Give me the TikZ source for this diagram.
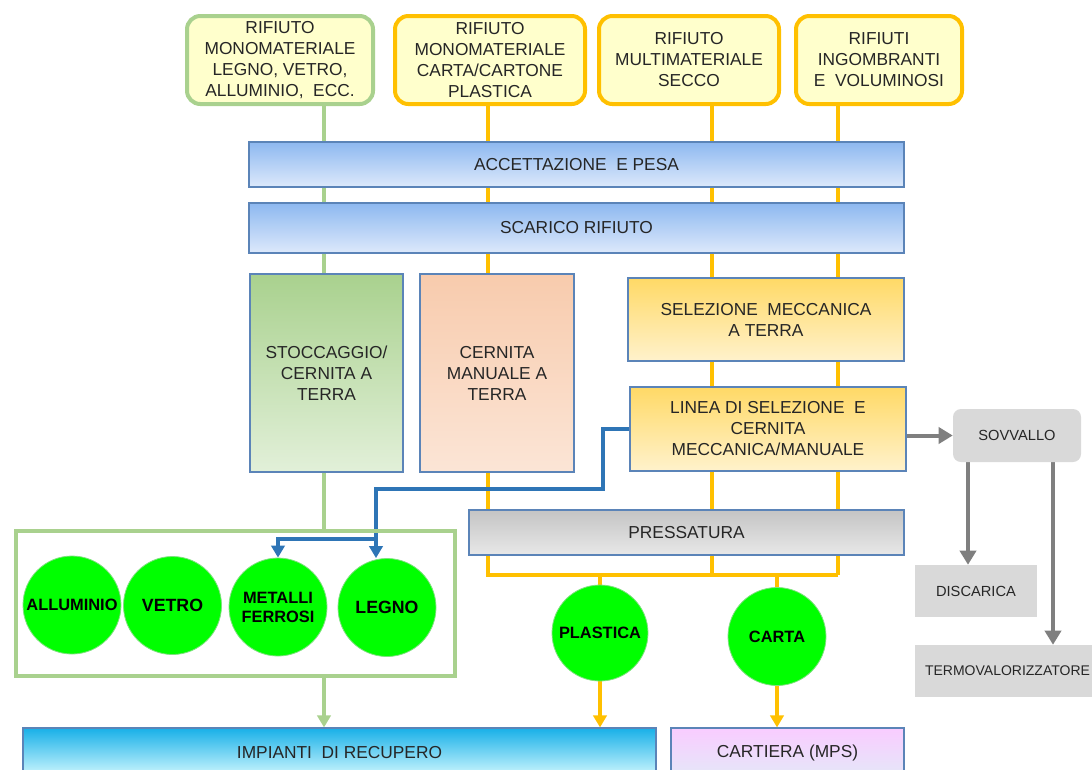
\documentclass[tikz,border=0pt]{standalone}
\usepackage{fontspec}
\setmainfont{Liberation Sans}
\usetikzlibrary{arrows.meta,backgrounds}
\definecolor{textc}{HTML}{262626}
\definecolor{topfill}{HTML}{FFFFCC}
\definecolor{grn}{HTML}{A9D18E}
\definecolor{org}{HTML}{FFC000}
\definecolor{boxline}{HTML}{5B84B8}
\definecolor{bluT}{HTML}{8DB8F0}
\definecolor{bluB}{HTML}{DDE9FB}
\definecolor{stocT}{HTML}{A9D18E}
\definecolor{stocB}{HTML}{E2F0D9}
\definecolor{cernT}{HTML}{F8CBAD}
\definecolor{cernM}{HTML}{F4B183}
\definecolor{cernB}{HTML}{FBE5D6}
\definecolor{yelT}{HTML}{FFD966}
\definecolor{yelB}{HTML}{FFF2CC}
\definecolor{presT}{HTML}{C4C4C4}
\definecolor{presB}{HTML}{E8E8E8}
\definecolor{grayfill}{HTML}{D9D9D9}
\definecolor{grayline}{HTML}{7F7F7F}
\definecolor{bline}{HTML}{2E75B6}
\definecolor{impT}{HTML}{18B0E8}
\definecolor{impM}{HTML}{BDEFFC}
\definecolor{impB}{HTML}{D6FAFF}
\definecolor{cartT}{HTML}{F9CCFF}
\definecolor{cartB}{HTML}{E4E8F8}
\definecolor{circfill}{HTML}{00FF00}
\definecolor{circline}{HTML}{7FE07F}
\begin{document}
\begin{tikzpicture}[x=0.75pt,y=-0.75pt,
  txt/.style={font=\fontsize{13}{15.75}\selectfont, text=textc, align=center, inner sep=0pt},
  topbox/.style={txt, draw, line width=3pt, fill=topfill, rounded corners=10pt, minimum height=66pt},
  pbox/.style={txt, draw=boxline, line width=0.9pt},
  blubox/.style={pbox, top color=bluT, bottom color=bluB},
  yelbox/.style={pbox, top color=yelT, bottom color=yelB},
  graybox/.style={txt, fill=grayfill, font=\fontsize{11}{13}\selectfont},
  circ/.style={circle, fill=circfill, draw=circline, line width=0.6pt, inner sep=0pt, align=center, text=black, font=\fontsize{12.3}{14.2}\selectfont\bfseries},
  bigc/.style={font=\fontsize{13.3}{15}\selectfont\bfseries},
  gline/.style={draw=grn, line width=3pt},
  oline/.style={draw=org, line width=3pt},
  bluel/.style={draw=bline, line width=3pt},
  grline/.style={draw=grayline, line width=3pt},
  tipS/.style={-{Triangle[width=10pt,length=9pt]}},
  tipG/.style={-{Triangle[width=12pt,length=10.5pt]}}
]
\clip (0,0) rectangle (1092,769);

% top boxes
\node[topbox, draw=grn, minimum width=139.5pt] (t1) at (280,60) {RIFIUTO\\MONOMATERIALE\\LEGNO, VETRO,\\ALLUMINIO,\ \ ECC.};
\node[topbox, draw=org, minimum width=142.5pt] (t2) at (490,60) {RIFIUTO\\MONOMATERIALE\\CARTA/CARTONE\\PLASTICA};
\node[topbox, draw=org, minimum width=135pt] (t3) at (689,60) {RIFIUTO\\MULTIMATERIALE\\SECCO};
\node[topbox, draw=org, minimum width=124.5pt] (t4) at (879,60) {RIFIUTI\\INGOMBRANTI\\E\ \ VOLUMINOSI};

% process boxes
\node[blubox, minimum width=491.25pt, minimum height=33.75pt] (acc) at (576.5,164.5) {ACCETTAZIONE\ \ E PESA};
\node[blubox, minimum width=491.25pt, minimum height=37.5pt] (scar) at (576.5,228) {SCARICO RIFIUTO};
\node[pbox, top color=stocT, bottom color=stocB, minimum width=114.75pt, minimum height=148.5pt] (stoc) at (326.5,373) {STOCCAGGIO/\\CERNITA A\\TERRA};
\node[pbox, top color=cernT, middle color=cernM, bottom color=cernB, minimum width=115.5pt, minimum height=148.5pt] (cern) at (497,373) {CERNITA\\MANUALE A\\TERRA};
\node[yelbox, minimum width=207pt, minimum height=62.25pt] (sel) at (766,319.5) {SELEZIONE\ \ MECCANICA\\A TERRA};
\node[yelbox, minimum width=207pt, minimum height=63pt] (lin) at (768,429) {LINEA DI SELEZIONE\ \ E\\CERNITA\\MECCANICA/MANUALE};
\node[graybox, rounded corners=6pt, minimum width=96pt, minimum height=39.75pt] (sov) at (1017,435.5) {SOVVALLO};
\node[pbox, top color=presT, bottom color=presB, minimum width=326.25pt, minimum height=33.75pt] (press) at (686.5,532.5) {PRESSATURA};
\node[graybox, minimum width=91.5pt, minimum height=39pt] (disc) at (976,591) {DISCARICA};
\node[graybox, font=\fontsize{10.5}{12.6}\selectfont, minimum width=138.75pt, minimum height=39pt] (termo) at (1007.5,671) {TERMOVALORIZZATORE};

% group of materials
\node[draw=grn, line width=3pt, minimum width=329.25pt, minimum height=108.75pt, inner sep=0pt] (grp) at (235.5,603.5) {};
\node[circ, minimum size=73.5pt] (allu) at (72,605) {ALLUMINIO};
\node[circ, bigc, minimum size=73.5pt] (vetro) at (172.5,605.5) {VETRO};
\node[circ, minimum size=73.5pt] (metal) at (278,607) {METALLI\\FERROSI};
\node[circ, bigc, minimum size=73.5pt] (legno) at (387,607.5) {LEGNO};
\node[circ, minimum size=72pt] (plast) at (600,633) {PLASTICA};
\node[circ, minimum size=73.5pt] (carta) at (777,636.5) {CARTA};

% destinations
\node[pbox, top color=impT, middle color=impM, bottom color=impB, minimum width=474.75pt, minimum height=37.5pt] (imp) at (339.5,753) {IMPIANTI\ \ DI RECUPERO};
\node[pbox, top color=cartT, bottom color=cartB, minimum width=174.75pt, minimum height=37.5pt] (cart) at (787.5,753) {CARTIERA (MPS)};

% helper coordinates
\coordinate (gx) at (324,0);
\coordinate (o1) at (488,575);
\coordinate (o2) at (712,575);
\coordinate (o3) at (838,575);
\coordinate (b1) at (603,489);
\coordinate (b2) at (376,489);
\coordinate (bj) at (376,539);
\coordinate (d1) at (968,0);
\coordinate (d2) at (1053,0);

\begin{scope}[on background layer]
  % green flow
  \draw[gline] (t1.south -| gx) -- (grp.north -| gx);
  \draw[gline, tipS] (grp.south -| gx) -- (imp.north -| gx);
  % orange flows
  \draw[oline] (t2.south -| o1) -- (o1) -- (o3);
  \draw[oline] (t3.south -| o2) -- (o2);
  \draw[oline] (t4.south -| o3) -- (o3);
  \draw[oline] (plast.north |- o1) -- (plast.north);
  \draw[oline] (carta.north |- o1) -- (carta.north);
  \draw[oline, tipS] (plast.south) -- (imp.north -| plast.south);
  \draw[oline, tipS] (carta.south) -- (cart.north -| carta.south);
  % gray flows
  \draw[grline, tipG] (sov.west -| lin.east) -- (sov.west);
  \draw[grline, tipG] (sov.south -| d1) -- (disc.north -| d1);
  \draw[grline, tipG] (sov.south -| d2) -- (termo.north -| d2);
  % blue flow
  \draw[bluel] (lin.west) -| (b1) -- (b2) -- (bj);
  \draw[bluel, tipS] (bj) -- (legno.north -| bj);
  \draw[bluel, tipS] (bj) -| (metal.north);
\end{scope}
\end{tikzpicture}
\end{document}
